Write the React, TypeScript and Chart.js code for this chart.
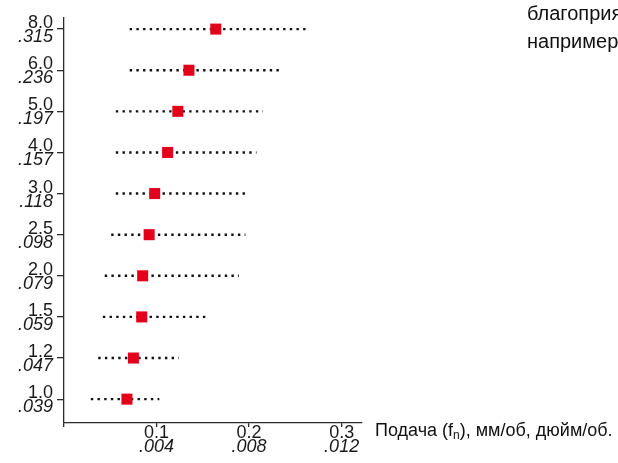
import React, { useEffect, useRef } from 'react';
import { Chart, registerables } from 'chart.js';

Chart.register(...registerables);

// Rows from bottom (index 0) to top
const mmLabels = ['1.0', '1.2', '1.5', '2.0', '2.5', '3.0', '4.0', '5.0', '6.0', '8.0'];
const inchLabels = ['.039', '.047', '.059', '.079', '.098', '.118', '.157', '.197', '.236', '.315'];
const rangeStart = [0.029, 0.037, 0.042, 0.044, 0.051, 0.056, 0.056, 0.056, 0.071, 0.071];
const rangeEnd = [0.103, 0.124, 0.157, 0.189, 0.196, 0.2, 0.208, 0.215, 0.236, 0.264];
const recommended = [0.068, 0.075, 0.084, 0.085, 0.092, 0.098, 0.112, 0.123, 0.135, 0.164];

const xTickValues = [0, 0.1, 0.2, 0.3];
const xTickMm = ['', '0.1', '0.2', '0.3'];
const xTickInch = ['', '.004', '.008', '.012'];

const FONT = '"Liberation Sans", Arial, Helvetica, sans-serif';

export default function App() {
  const ref = useRef<HTMLCanvasElement>(null);

  useEffect(() => {
    if (!ref.current) return;

    const labelPlugin = {
      id: 'twoLineLabels',
      afterDraw(chart: any) {
        const ctx = chart.ctx as CanvasRenderingContext2D;
        const ys = chart.scales.y;
        const xs = chart.scales.x;
        const area = chart.chartArea;
        ctx.save();
        ctx.fillStyle = '#1a1a1a';
        ctx.textBaseline = 'alphabetic';
        ctx.textAlign = 'right';
        mmLabels.forEach((lab, i) => {
          const py = ys.getPixelForValue(i);
          ctx.font = `18px ${FONT}`;
          ctx.fillText(lab, area.left - 11, py - 1);
          ctx.font = `italic 18px ${FONT}`;
          ctx.fillText(inchLabels[i], area.left - 11, py + 13);
        });
        ctx.textAlign = 'center';
        xTickValues.forEach((v, i) => {
          const px = xs.getPixelForValue(v);
          ctx.font = `18px ${FONT}`;
          ctx.fillText(xTickMm[i], px, area.bottom + 15);
          ctx.font = `italic 18px ${FONT}`;
          ctx.fillText(xTickInch[i], px, area.bottom + 29);
        });
        ctx.restore();
      },
    };

    const rangeSets = mmLabels.map((_, i) => ({
      label: 'range ' + mmLabels[i],
      data: [
        { x: rangeStart[i], y: i },
        { x: rangeEnd[i], y: i },
      ],
      showLine: true,
      borderColor: '#111',
      borderWidth: 2.4,
      borderDash: [2.4, 4.27],
      borderCapStyle: 'butt',
      pointRadius: 0,
      fill: false,
      order: 2,
    }));

    const chart = new Chart(ref.current, {
      type: 'scatter',
      data: {
        datasets: [
          ...rangeSets,
          {
            label: 'recommended',
            data: recommended.map((x, i) => ({ x, y: i })),
            pointStyle: 'rect',
            pointRadius: 7.8,
            pointBackgroundColor: '#e2001a',
            pointBorderWidth: 0,
            backgroundColor: '#e2001a',
            borderWidth: 0,
            order: 1,
          },
        ] as any,
      },
      options: {
        animation: false,
        responsive: false,
        devicePixelRatio: 1,
        events: [],
        layout: { padding: { left: 57, right: 256, top: 18, bottom: 36 } },
        plugins: { legend: { display: false }, tooltip: { enabled: false } },
        scales: {
          x: {
            type: 'linear',
            min: 0,
            max: 0.322,
            afterBuildTicks: (s: any) => {
              s.ticks = xTickValues.map((v) => ({ value: v }));
            },
            afterFit: (s: any) => {
              s.height = 4;
            },
            ticks: { display: false },
            grid: {
              display: true,
              drawOnChartArea: false,
              drawTicks: true,
              tickLength: 4,
              color: '#2a2a2a',
              lineWidth: 1.3,
            },
            border: { display: true, color: '#2a2a2a', width: 1.3 },
          },
          y: {
            type: 'linear',
            min: -0.58,
            max: 9.27,
            afterBuildTicks: (s: any) => {
              s.ticks = mmLabels.map((_, i) => ({ value: i }));
            },
            afterFit: (s: any) => {
              s.width = 7;
            },
            ticks: { display: false },
            grid: {
              display: true,
              drawOnChartArea: false,
              drawTicks: true,
              tickLength: 7,
              color: '#2a2a2a',
              lineWidth: 1.3,
            },
            border: { display: true, color: '#2a2a2a', width: 1.3 },
          },
        },
      } as any,
      plugins: [labelPlugin],
    });

    return () => chart.destroy();
  }, []);

  const textStyle: React.CSSProperties = {
    position: 'absolute',
    fontFamily: FONT,
    fontSize: 18,
    lineHeight: '20px',
    color: '#111',
    whiteSpace: 'nowrap',
  };

  return (
    <div
      style={{
        position: 'fixed',
        left: 0,
        top: 0,
        width: 618,
        height: 463,
        overflow: 'hidden',
        background: '#fff',
      }}
    >
      <canvas ref={ref} width={618} height={463} style={{ position: 'absolute', left: 0, top: 0 }} />
      <div style={{ ...textStyle, fontSize: 20, lineHeight: '22px', left: 527, top: 2 }}>благоприятных</div>
      <div style={{ ...textStyle, fontSize: 20, lineHeight: '22px', left: 527, top: 30 }}>например,</div>
      <div style={{ ...textStyle, left: 375, top: 420 }}>
        Подача (f<sub style={{ fontSize: 12, verticalAlign: 'baseline', position: 'relative', top: 3 }}>n</sub>), мм/об, дюйм/об.
      </div>
    </div>
  );
}
